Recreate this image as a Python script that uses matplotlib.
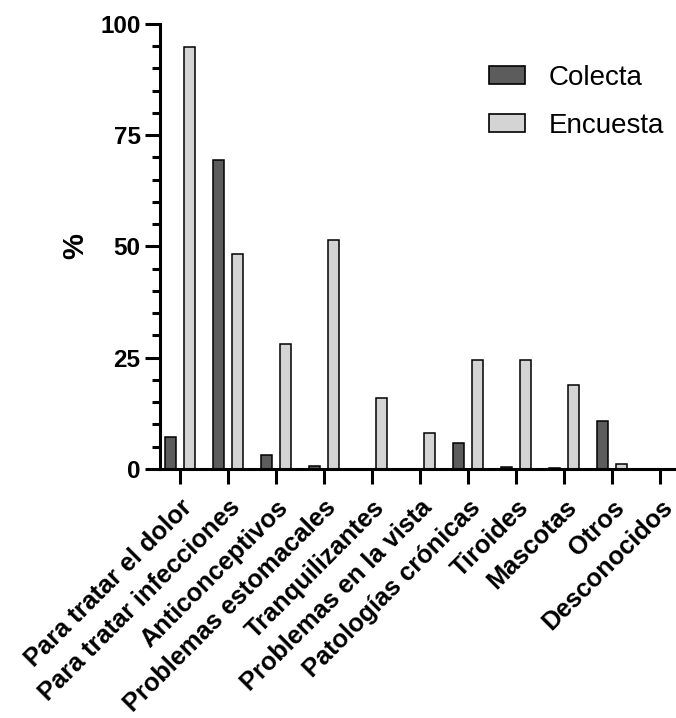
import matplotlib
matplotlib.use("Agg")
import matplotlib.pyplot as plt
import numpy as np
from matplotlib.ticker import MultipleLocator

plt.rcParams['font.family'] = ['Liberation Sans', 'DejaVu Sans']

categories = ["Para tratar el dolor", "Para tratar infecciones", "Anticonceptivos",
              "Problemas estomacales", "Tranquilizantes", "Problemas en la vista",
              "Patologías crónicas", "Tiroides", "Mascotas", "Otros", "Desconocidos"]
colecta = [7.1, 69.5, 3.2, 0.6, 0.0, 0.0, 5.8, 0.35, 0.2, 10.7, 0.0]
encuesta = [94.9, 48.2, 28.2, 51.4, 15.9, 8.2, 24.6, 24.6, 18.9, 1.2, 0.0]
series_names = ["Colecta", "Encuesta"]
yticks = [0, 25, 50, 75, 100]

fig = plt.figure(figsize=(6.76, 7.18), dpi=100)
ax = fig.add_axes([0.2367, 0.3468, 0.7633, 0.6198])

x = np.arange(len(categories))
w = 0.23
off = 0.2
ax.bar(x - off, colecta, w, color="#5c5c5c", edgecolor="black", linewidth=1.1,
       label=series_names[0], zorder=3)
ax.bar(x + off, encuesta, w, color="#d4d4d4", edgecolor="black", linewidth=1.1,
       label=series_names[1], zorder=3)

ax.set_xlim(-0.42, 10.33)
ax.set_ylim(0, 100)
ax.set_yticks(yticks)
ax.yaxis.set_minor_locator(MultipleLocator(5))
ax.set_xticks(x)
ax.set_xticklabels(categories, rotation=45, ha="right", rotation_mode="anchor",
                   fontsize=18.3, fontweight="bold")
for lab in ax.get_yticklabels():
    lab.set_fontsize(17.5)
    lab.set_fontweight("bold")

for s in ["top", "right"]:
    ax.spines[s].set_visible(False)
for s in ["left", "bottom"]:
    ax.spines[s].set_linewidth(2.2)
ax.spines["bottom"].set_zorder(4)

ax.tick_params(axis="both", which="major", direction="out", length=11, width=2.2)
ax.tick_params(axis="y", which="minor", direction="out", length=6, width=2.2)
ax.tick_params(axis="x", pad=8)
ax.tick_params(axis="y", pad=3)

ax.set_ylabel("%", fontsize=21, fontweight="bold", labelpad=8)

leg = ax.legend(loc="upper right", bbox_to_anchor=(1.025, 0.965), frameon=False,
                fontsize=20.0, handlelength=1.3, handleheight=0.6, handletextpad=0.83,
                labelspacing=0.8)
for h in leg.legend_handles:
    h.set_linewidth(1.2)

fig.savefig("out.png", dpi=100)
